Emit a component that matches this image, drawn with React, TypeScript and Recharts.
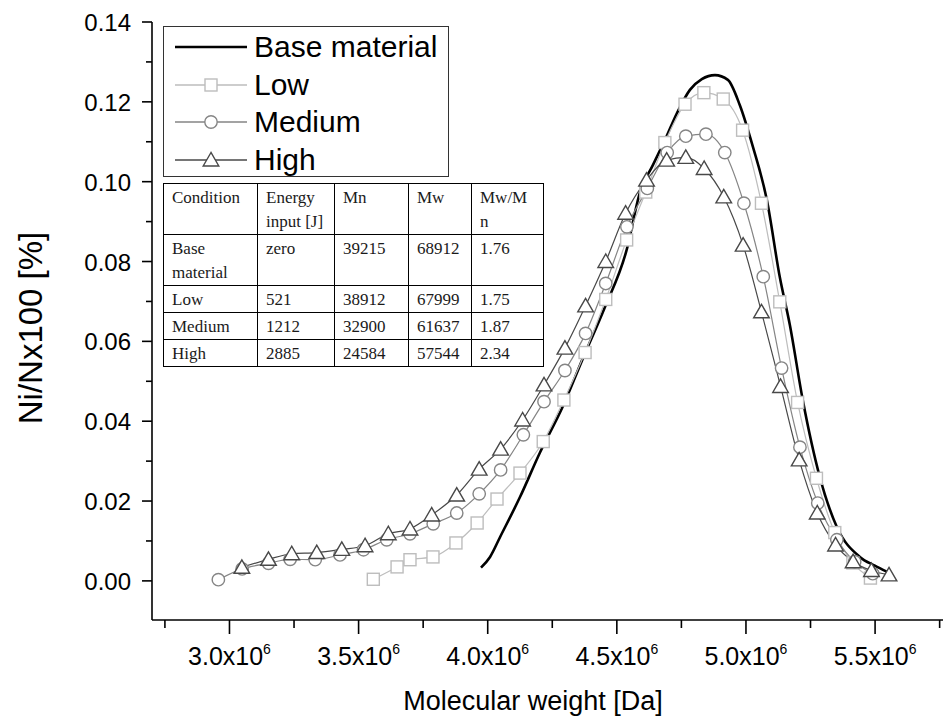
import React from 'react';
import { LineChart, Line, XAxis, YAxis, Legend } from 'recharts';

// molecular weight in units of 1e6 Da, fraction in %
const baseX = [3.974, 4.009, 4.048, 4.125, 4.202, 4.288, 4.369, 4.454, 4.538, 4.589, 4.640, 4.686, 4.733, 4.783, 4.829, 4.880, 4.930, 4.976, 5.027, 5.081, 5.131, 5.170, 5.220, 5.286, 5.352, 5.441, 5.499, 5.545];
const baseY = [0.0033, 0.0060, 0.0110, 0.0210, 0.0321, 0.0433, 0.0558, 0.0686, 0.0829, 0.0972, 0.1042, 0.1104, 0.1172, 0.1230, 0.1257, 0.1267, 0.1255, 0.1192, 0.1087, 0.0954, 0.0761, 0.0641, 0.0453, 0.0260, 0.0135, 0.0060, 0.0038, 0.0023];

const lowX = [3.557, 3.649, 3.699, 3.788, 3.877, 3.959, 4.036, 4.125, 4.215, 4.295, 4.377, 4.457, 4.538, 4.612, 4.686, 4.764, 4.837, 4.912, 4.987, 5.060, 5.131, 5.200, 5.273, 5.344, 5.414, 5.482];
const lowY = [0.0004, 0.0035, 0.0053, 0.0060, 0.0095, 0.0145, 0.0205, 0.0270, 0.0349, 0.0453, 0.0572, 0.0705, 0.0854, 0.0974, 0.1098, 0.1194, 0.1223, 0.1207, 0.1129, 0.0946, 0.0699, 0.0447, 0.0257, 0.0121, 0.0045, 0.0007];

const mediumX = [2.957, 3.049, 3.151, 3.235, 3.332, 3.428, 3.519, 3.609, 3.699, 3.789, 3.880, 3.967, 4.050, 4.138, 4.218, 4.299, 4.379, 4.457, 4.539, 4.618, 4.695, 4.767, 4.845, 4.918, 4.992, 5.067, 5.138, 5.209, 5.278, 5.352, 5.421, 5.491];
const mediumY = [0.0003, 0.0030, 0.0044, 0.0054, 0.0053, 0.0065, 0.0078, 0.0103, 0.0118, 0.0143, 0.0170, 0.0218, 0.0278, 0.0366, 0.0449, 0.0527, 0.0620, 0.0745, 0.0887, 0.0983, 0.1073, 0.1114, 0.1119, 0.1073, 0.0946, 0.0762, 0.0533, 0.0335, 0.0195, 0.0103, 0.0048, 0.0018];

const highX = [3.048, 3.151, 3.241, 3.338, 3.435, 3.525, 3.615, 3.699, 3.783, 3.880, 3.967, 4.050, 4.135, 4.218, 4.299, 4.379, 4.457, 4.534, 4.615, 4.693, 4.767, 4.838, 4.914, 4.989, 5.060, 5.134, 5.206, 5.276, 5.347, 5.415, 5.486, 5.554];
const highY = [0.0034, 0.0054, 0.0068, 0.0071, 0.0079, 0.0088, 0.0118, 0.0130, 0.0165, 0.0215, 0.0280, 0.0330, 0.0403, 0.0491, 0.0583, 0.0689, 0.0800, 0.0921, 0.1004, 0.1054, 0.1061, 0.1033, 0.0962, 0.0841, 0.0674, 0.0487, 0.0303, 0.0170, 0.0090, 0.0048, 0.0026, 0.0015];

const xTicks = [2.75, 3.0, 3.25, 3.5, 3.75, 4.0, 4.25, 4.5, 4.75, 5.0, 5.25, 5.5, 5.75];
const yTicks = [0, 0.01, 0.02, 0.03, 0.04, 0.05, 0.06, 0.07, 0.08, 0.09, 0.1, 0.11, 0.12, 0.13, 0.14];

// table inside the plot
const tableHeader = ['Condition', 'Energy input [J]', 'Mn', 'Mw', 'Mw/Mn'];
const tableCondition = ['Base material', 'Low', 'Medium', 'High'];
const tableEnergy = ['zero', '521', '1212', '2885'];
const tableMn = ['39215', '38912', '32900', '24584'];
const tableMw = ['68912', '67999', '61637', '57544'];
const tableRatio = ['1.76', '1.75', '1.87', '2.34'];

const toPoints = (xs: number[], ys: number[]) => xs.map((x, i) => ({ x, y: ys[i] }));

const series = [
  { name: 'Base material', data: toPoints(baseX, baseY), color: '#000000', width: 2.6, marker: 'none' },
  { name: 'Low', data: toPoints(lowX, lowY), color: '#bdbdbd', width: 1.2, marker: 'square' },
  { name: 'Medium', data: toPoints(mediumX, mediumY), color: '#858585', width: 1.2, marker: 'circle' },
  { name: 'High', data: toPoints(highX, highY), color: '#484848', width: 1.2, marker: 'triangle' },
];

const SANS = '"Liberation Sans", Arial, sans-serif';
const SERIF = '"Liberation Serif", "Times New Roman", serif';

function Marker({ kind, cx, cy, color }: any) {
  if (kind === 'square') {
    return <rect x={cx - 6} y={cy - 6} width={12} height={12} fill="#fff" stroke={color} strokeWidth={1.4} />;
  }
  if (kind === 'circle') {
    return <circle cx={cx} cy={cy} r={6.2} fill="#fff" stroke={color} strokeWidth={1.4} />;
  }
  if (kind === 'triangle') {
    return (
      <polygon
        points={`${cx},${cy - 7.5} ${cx - 7.8},${cy + 6} ${cx + 7.8},${cy + 6}`}
        fill="#fff"
        stroke={color}
        strokeWidth={1.4}
      />
    );
  }
  return null;
}

const XTick = ({ x, y, payload }: any) => {
  const v = payload.value;
  const major = Math.abs(v * 2 - Math.round(v * 2)) < 1e-6;
  return (
    <g>
      <line x1={x} x2={x} y1={y} y2={y + (major ? 14 : 8)} stroke="#000" strokeWidth={1.6} />
      {major && (
        <text x={x} y={y + 45} textAnchor="middle" fontFamily={SANS} fontSize={25} fill="#000">
          {v.toFixed(1)}x10
          <tspan dy={-11} fontSize={14}>6</tspan>
        </text>
      )}
    </g>
  );
};

const YTick = ({ x, y, payload }: any) => {
  const v = payload.value;
  const major = Math.round(v * 100) % 2 === 0;
  return (
    <g>
      <line x1={x} x2={x - (major ? 10 : 6)} y1={y} y2={y} stroke="#000" strokeWidth={1.6} />
      {major && (
        <text x={x - 21} y={y + 9} textAnchor="end" fontFamily={SANS} fontSize={24} fill="#000">
          {v.toFixed(2)}
        </text>
      )}
    </g>
  );
};

// legend keeps the series order (recharts sorts it by name otherwise)
const LegendBox = () => (
  <div
    style={{
      width: 286,
      height: 151,
      boxSizing: 'border-box',
      border: '1.5px solid #333',
      background: '#fff',
      paddingTop: 1,
      fontFamily: SANS,
      fontSize: 30,
      color: '#000',
    }}
  >
    {series.map((s) => (
      <div key={s.name} style={{ display: 'flex', alignItems: 'center', height: 37.5 }}>
        <svg width={90} height={37} style={{ flex: 'none' }}>
          <line x1={11} x2={83} y1={19} y2={19} stroke={s.color} strokeWidth={s.marker === 'none' ? 2.6 : 1.4} />
          <Marker kind={s.marker} cx={47} cy={19} color={s.color} />
        </svg>
        <span style={{ lineHeight: '37px', whiteSpace: 'nowrap' }}>{s.name}</span>
      </div>
    ))}
  </div>
);

const colWidths = [94, 77, 74, 63, 72];
const rowHeights = [49, 47, 24, 22, 23];

function InfoTable() {
  const rows = tableCondition.map((c, i) => [c, tableEnergy[i], tableMn[i], tableMw[i], tableRatio[i]]);
  const cell = (j: number, h: number): React.CSSProperties => ({
    border: '1.2px solid #000',
    padding: j === 4 ? '2px 11px 0 8px' : '2px 4px 0 8px',
    verticalAlign: 'top',
    height: h,
    boxSizing: 'border-box',
    wordBreak: j === 4 ? 'break-all' : 'normal',
    overflow: 'hidden',
    fontFamily: SERIF,
    fontSize: 17,
    lineHeight: '24px',
    color: '#1a1a1a',
  });
  return (
    <table
      style={{
        position: 'absolute',
        left: 163,
        top: 183,
        width: 380,
        borderCollapse: 'collapse',
        tableLayout: 'fixed',
        background: '#fff',
      }}
    >
      <colgroup>
        {colWidths.map((w, i) => (
          <col key={i} style={{ width: w }} />
        ))}
      </colgroup>
      <tbody>
        <tr>
          {tableHeader.map((h, j) => (
            <td key={j} style={cell(j, rowHeights[0])}>{h}</td>
          ))}
        </tr>
        {rows.map((r, i) => (
          <tr key={i}>
            {r.map((v, j) => (
              <td key={j} style={cell(j, rowHeights[i + 1])}>{v}</td>
            ))}
          </tr>
        ))}
      </tbody>
    </table>
  );
}

export default function App() {
  return (
    <div style={{ position: 'absolute', left: 0, top: 0, width: 943, height: 720, background: '#fff' }}>
      <LineChart width={943} height={720} margin={{ top: 22, right: 0, bottom: 0, left: 0 }}>
        <XAxis
          type="number"
          dataKey="x"
          domain={[2.7, 5.763]}
          allowDataOverflow
          ticks={xTicks}
          interval={0}
          tickSize={0}
          tickMargin={0}
          tickLine={false}
          tick={<XTick />}
          height={100}
          axisLine={{ stroke: '#000', strokeWidth: 1.6 }}
          label={({ viewBox }: any) => (
            <text
              x={533}
              y={viewBox.y + 90}
              textAnchor="middle"
              fontFamily={SANS}
              fontSize={27}
              fill="#000"
            >
              Molecular weight [Da]
            </text>
          )}
        />
        <YAxis
          type="number"
          dataKey="y"
          domain={[-0.0098, 0.14]}
          allowDataOverflow
          ticks={yTicks}
          interval={0}
          tickSize={0}
          tickMargin={0}
          tickLine={false}
          tick={<YTick />}
          width={152}
          axisLine={{ stroke: '#000', strokeWidth: 1.6 }}
          label={() => (
            <text
              x={42}
              y={328}
              transform="rotate(-90 42 328)"
              textAnchor="middle"
              fontFamily={SANS}
              fontSize={33}
              fill="#000"
            >
              Ni/Nx100 [%]
            </text>
          )}
        />
        <Legend
          layout="vertical"
          align="center"
          verticalAlign="middle"
          content={<LegendBox />}
          wrapperStyle={{ left: 163, top: 26, width: 286, height: 151 }}
        />
        {series.map((s) => (
          <Line
            key={s.name}
            name={s.name}
            data={s.data}
            dataKey="y"
            type="monotone"
            stroke={s.color}
            strokeWidth={s.width}
            isAnimationActive={false}
            legendType="line"
            dot={
              s.marker === 'none'
                ? false
                : (p: any) => <Marker key={`${s.name}-${p.index}`} kind={s.marker} cx={p.cx} cy={p.cy} color={s.color} />
            }
            activeDot={false}
          />
        ))}
      </LineChart>
      <InfoTable />
    </div>
  );
}
